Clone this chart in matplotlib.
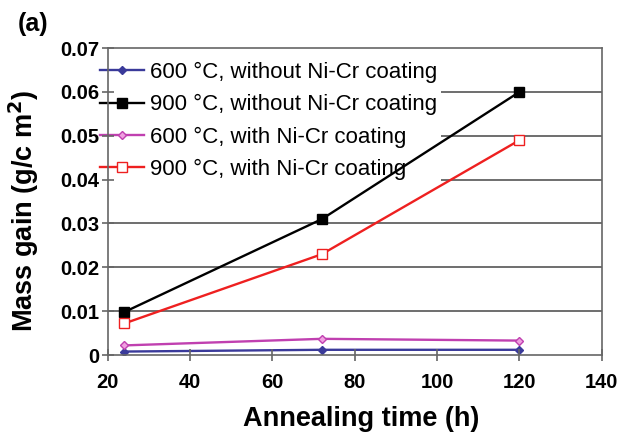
import matplotlib
matplotlib.use("Agg")
import matplotlib.pyplot as plt

plt.rcParams["font.family"] = ["Liberation Sans", "DejaVu Sans"]

# annealing times (h)
time_h = [24, 72, 120]

# mass gain (g/cm2)
gain_600_bare = [0.0008, 0.0012, 0.0012]
gain_900_bare = [0.0098, 0.031, 0.060]
gain_600_coat = [0.0022, 0.0037, 0.0033]
gain_900_coat = [0.0072, 0.023, 0.049]

labels = ["600 °C, without Ni-Cr coating", "900 °C, without Ni-Cr coating",
          "600 °C, with Ni-Cr coating", "900 °C, with Ni-Cr coating"]
y_ticks = [0, 0.01, 0.02, 0.03, 0.04, 0.05, 0.06, 0.07]
y_ticklabels = ["0", "0.01", "0.02", "0.03", "0.04", "0.05", "0.06", "0.07"]

fig = plt.figure(figsize=(6.23, 4.33), dpi=100)
ax = fig.add_axes([0.173, 0.180, 0.793, 0.709])

# lines sit above the legend box, grid sits below it
ax.plot(time_h, gain_600_bare, color="#3a3a9a", marker="D", markersize=4, lw=1.7,
        label=labels[0], zorder=2)
ax.plot(time_h, gain_900_bare, color="black", marker="s", markersize=6.5, lw=1.7,
        label=labels[1], zorder=2)
ax.plot(time_h, gain_600_coat, color="#c040b0", marker="D", markersize=4,
        markerfacecolor="#f0a0e0", lw=1.7, label=labels[2], zorder=2)
ax.plot(time_h, gain_900_coat, color="#ee2020", marker="s", markersize=7,
        markerfacecolor="white", lw=1.7, label=labels[3], zorder=2)

for yv in y_ticks[1:-1]:
    ax.axhline(yv, color="#555555", lw=1.2, zorder=1)

ax.set_xlim(20, 140)
ax.set_ylim(0, 0.07)
ax.set_xticks(range(20, 141, 20))
ax.set_yticks(y_ticks)
ax.set_yticklabels(y_ticklabels)
ax.set_axisbelow(False)
for s in ax.spines.values():
    s.set_color("#666666")
    s.set_linewidth(1.2)
ax.tick_params(direction="inout", length=8, width=1.2, color="#666666", labelsize=14.5)
ax.tick_params(axis="x", pad=9)
ax.tick_params(axis="y", pad=2)
for t in ax.get_xticklabels() + ax.get_yticklabels():
    t.set_fontweight("bold")

ax.set_xlabel("Annealing time (h)", fontsize=19.5, fontweight="bold")
ax.xaxis.set_label_coords(0.512, -0.166)
ax.set_ylabel("Mass gain (g/c m$\\mathbf{^2}$)", fontsize=19.5, fontweight="bold")
ax.yaxis.set_label_coords(-0.136, 0.47)

leg = ax.legend(loc="upper left", bbox_to_anchor=(-0.048, 1.005), frameon=True, facecolor="white",
                edgecolor="none", framealpha=1, fontsize=16, handlelength=2.0,
                handletextpad=0.25, labelspacing=0.5, borderpad=0.2)
leg.set_zorder(1.5)

fig.text(0.028, 0.928, "(a)", fontsize=18, fontweight="bold")

fig.savefig("out.png", dpi=100)
